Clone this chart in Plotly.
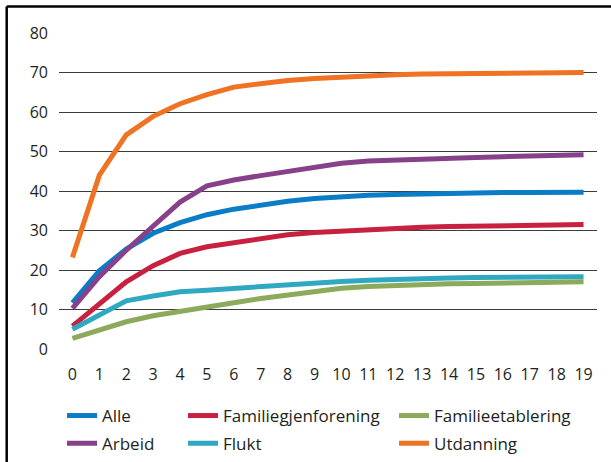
import plotly.graph_objects as go

# Years since arrival
years = list(range(20))
tick_labels = [str(y) for y in years]

alle = [11.7, 19.8, 25.3, 29.3, 32.0, 34.0, 35.4, 36.5, 37.4, 38.1, 38.6, 38.9, 39.1, 39.3,
        39.4, 39.5, 39.6, 39.6, 39.7, 39.7]
familiegjenforening = [5.8, 11.2, 17.0, 21.1, 24.2, 25.9, 27.0, 28.0, 28.9, 29.5, 29.9, 30.3,
                       30.6, 30.8, 31.0, 31.1, 31.2, 31.3, 31.3, 31.5]
familieetablering = [2.7, 4.8, 6.9, 8.4, 9.6, 10.7, 11.7, 12.8, 13.7, 14.7, 15.4, 15.8, 16.1,
                     16.4, 16.5, 16.6, 16.7, 16.7, 16.7, 17.0]
arbeid = [10.3, 18.3, 25.0, 31.0, 37.2, 41.3, 42.8, 43.9, 44.9, 46.2, 47.0, 47.6, 47.9, 48.1,
          48.3, 48.5, 48.7, 48.8, 48.8, 49.2]
flukt = [5.0, 8.6, 12.2, 13.4, 14.5, 14.9, 15.4, 15.8, 16.4, 16.8, 17.1, 17.4, 17.7, 17.8,
         18.0, 18.1, 18.2, 18.2, 18.2, 18.3]
utdanning = [23.2, 44.0, 54.2, 58.9, 62.1, 64.4, 66.3, 67.3, 68.0, 68.5, 68.9, 69.2, 69.4,
             69.6, 69.7, 69.8, 69.9, 69.9, 69.9, 70.0]

series = [
    ("Alle", alle, "#0a7dc6", "legend"),
    ("Arbeid", arbeid, "#87418a", "legend"),
    ("Familiegjenforening", familiegjenforening, "#c8203f", "legend2"),
    ("Flukt", flukt, "#2fa9c2", "legend2"),
    ("Familieetablering", familieetablering, "#8caa5c", "legend3"),
    ("Utdanning", utdanning, "#f07223", "legend3"),
]

W, H = 611, 462
FONT = "Open Sans"
TXT = "#231f20"

fig = go.Figure()
for name, vals, color, leg in series:
    fig.add_trace(go.Scatter(
        x=years, y=vals, name=name, mode="lines", legend=leg, legendgroup=name,
        line=dict(color=color, width=5),
    ))

# plot area in pixels
left, right, top, bottom = 59, 597, 33, 349


def px_x(p):
    return (p - left) / (right - left)


def px_y(p):
    return (bottom - p) / (bottom - top)


frame = dict(color="black", width=2.5)
shapes = [
    dict(type="line", xref="paper", yref="paper", x0=px_x(6.7), x1=px_x(611),
         y0=px_y(6.5), y1=px_y(6.5), line=frame),
    dict(type="line", xref="paper", yref="paper", x0=px_x(6.7), x1=px_x(6.7),
         y0=px_y(6.5), y1=px_y(470), line=frame),
]


def legend_at(xpx, ypx):
    return dict(
        x=xpx / W, y=1 - ypx / H, xref="container", yref="container",
        xanchor="left", yanchor="top", orientation="v",
        font=dict(family=FONT, size=17, color=TXT),
        bgcolor="rgba(0,0,0,0)", borderwidth=0, tracegroupgap=2.6,
        itemclick=False,
    )


fig.update_layout(
    width=W, height=H,
    margin=dict(l=left, r=W - right, t=top, b=H - bottom, pad=0, autoexpand=False),
    paper_bgcolor="white", plot_bgcolor="white",
    font=dict(family=FONT, size=16, color=TXT),
    showlegend=True,
    legend=legend_at(62, 398),
    legend2=legend_at(183, 398),
    legend3=legend_at(394, 398),
    shapes=shapes,
    xaxis=dict(
        tickmode="array", tickvals=years, ticktext=tick_labels,
        range=[-0.5, 19.5], showgrid=False, zeroline=False, showline=False,
        ticks="", ticklabelstandoff=14, fixedrange=True, automargin=False,
        tickfont=dict(family=FONT, size=16, color=TXT),
    ),
    yaxis=dict(
        range=[0, 80], dtick=10, tick0=0, showgrid=True, gridcolor="#3c3c3c",
        gridwidth=1.2, zeroline=False, showline=False, ticks="",
        ticklabelstandoff=10, fixedrange=True, automargin=False,
        tickfont=dict(family=FONT, size=16, color=TXT),
    ),
)

fig.write_html("out.html")
